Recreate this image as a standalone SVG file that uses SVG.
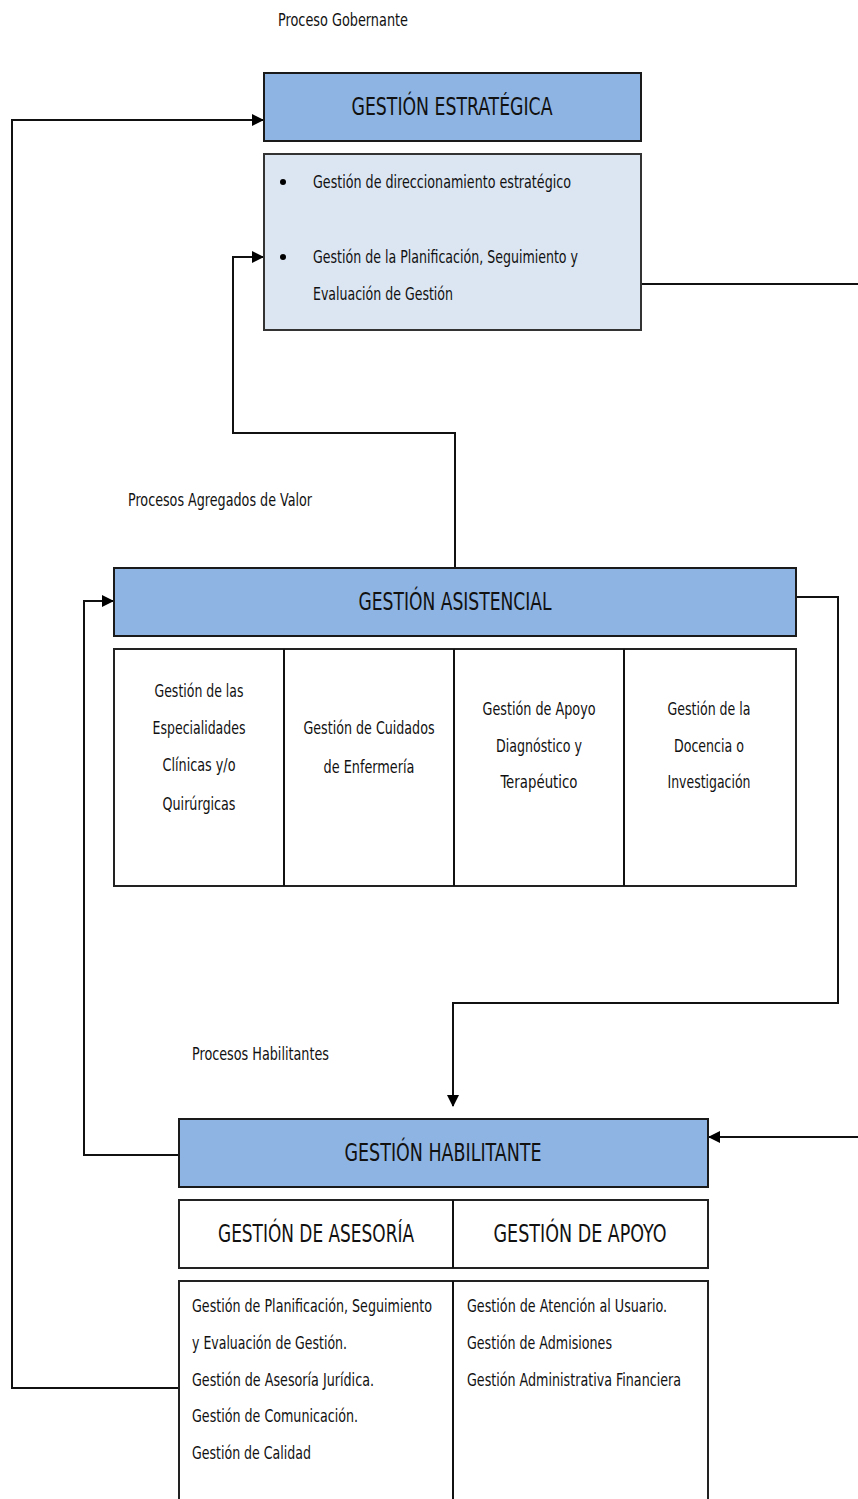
<svg xmlns="http://www.w3.org/2000/svg" width="858" height="1499" viewBox="0 0 858 1499">
<style>
text{font-family:"Liberation Sans Narrow","DejaVu Sans Condensed","Liberation Sans",sans-serif;fill:#111;}
.s{font-size:17px;}
.h{font-size:25px;}
.c{text-anchor:middle;}
.dark{fill:#8eb4e3;stroke:#1a1a1a;stroke-width:2;}
.light{fill:#dce6f2;stroke:#333;stroke-width:2;}
.white{fill:#fff;stroke:#222;stroke-width:2;}
.con{fill:none;stroke:#111;stroke-width:2;}
</style>
<defs>
<marker id="arr" markerWidth="12" markerHeight="12" refX="11" refY="6" orient="auto" markerUnits="userSpaceOnUse">
<path d="M0,0 L12,6 L0,12 Z" fill="#000"/>
</marker>
</defs>
<rect width="858" height="1499" fill="#fff"/>

<text class="s" x="278" y="26" textLength="130" lengthAdjust="spacingAndGlyphs">Proceso Gobernante</text>
<text class="s" x="128" y="506" textLength="184" lengthAdjust="spacingAndGlyphs">Procesos Agregados de Valor</text>
<text class="s" x="192" y="1060" textLength="137" lengthAdjust="spacingAndGlyphs">Procesos Habilitantes</text>

<g id="connectors">
<polyline class="con" points="179,1388 12,1388 12,120 263,120" marker-end="url(#arr)"/>
<polyline class="con" points="455,568 455,433 233,433 233,257 263,257" marker-end="url(#arr)"/>
<line class="con" x1="641" y1="284" x2="858" y2="284"/>
<polyline class="con" points="179,1155 84,1155 84,601 113,601" marker-end="url(#arr)"/>
<polyline class="con" points="796,597 838,597 838,1003 453,1003 453,1106" marker-end="url(#arr)"/>
<line class="con" x1="858" y1="1137" x2="709" y2="1137" marker-end="url(#arr)"/>
</g>

<g id="gestion-estrategica">
<rect class="dark" x="264" y="73" width="377" height="68"/>
<text class="h c" x="452" y="115" textLength="201" lengthAdjust="spacingAndGlyphs">GESTIÓN ESTRATÉGICA</text>
</g>

<g id="estrategica-detalle">
<rect class="light" x="264" y="154" width="377" height="176"/>
<circle cx="283" cy="182" r="3" fill="#000"/>
<circle cx="283" cy="257" r="3" fill="#000"/>
<text class="s" x="313" y="188" textLength="258" lengthAdjust="spacingAndGlyphs">Gestión de direccionamiento estratégico</text>
<text class="s" x="313" y="263" textLength="265" lengthAdjust="spacingAndGlyphs">Gestión de la Planificación, Seguimiento y</text>
<text class="s" x="313" y="300" textLength="140" lengthAdjust="spacingAndGlyphs">Evaluación de Gestión</text>
</g>

<g id="gestion-asistencial">
<rect class="dark" x="114" y="568" width="682" height="68"/>
<text class="h c" x="455" y="610" textLength="193" lengthAdjust="spacingAndGlyphs">GESTIÓN ASISTENCIAL</text>
</g>

<g id="asistencial-detalle">
<rect class="white" x="114" y="649" width="682" height="237"/>
<line class="con" x1="284" y1="649" x2="284" y2="886"/>
<line class="con" x1="454" y1="649" x2="454" y2="886"/>
<line class="con" x1="624" y1="649" x2="624" y2="886"/>
<text class="s c" x="199" y="697" textLength="89" lengthAdjust="spacingAndGlyphs">Gestión de las</text>
<text class="s c" x="199" y="734" textLength="93" lengthAdjust="spacingAndGlyphs">Especialidades</text>
<text class="s c" x="199" y="771" textLength="73" lengthAdjust="spacingAndGlyphs">Clínicas y/o</text>
<text class="s c" x="199" y="810" textLength="73" lengthAdjust="spacingAndGlyphs">Quirúrgicas</text>
<text class="s c" x="369" y="734" textLength="131" lengthAdjust="spacingAndGlyphs">Gestión de Cuidados</text>
<text class="s c" x="369" y="773" textLength="91" lengthAdjust="spacingAndGlyphs">de Enfermería</text>
<text class="s c" x="539" y="715" textLength="113" lengthAdjust="spacingAndGlyphs">Gestión de Apoyo</text>
<text class="s c" x="539" y="752" textLength="86" lengthAdjust="spacingAndGlyphs">Diagnóstico y</text>
<text class="s c" x="539" y="788" textLength="77" lengthAdjust="spacingAndGlyphs">Terapéutico</text>
<text class="s c" x="709" y="715" textLength="83" lengthAdjust="spacingAndGlyphs">Gestión de la</text>
<text class="s c" x="709" y="752" textLength="70" lengthAdjust="spacingAndGlyphs">Docencia o</text>
<text class="s c" x="709" y="788" textLength="83" lengthAdjust="spacingAndGlyphs">Investigación</text>
</g>

<g id="gestion-habilitante">
<rect class="dark" x="179" y="1119" width="529" height="68"/>
<text class="h c" x="443" y="1161" textLength="197" lengthAdjust="spacingAndGlyphs">GESTIÓN HABILITANTE</text>
</g>

<g id="habilitante-cabecera">
<rect class="white" x="179" y="1200" width="529" height="68"/>
<line class="con" x1="453" y1="1200" x2="453" y2="1268"/>
<text class="h c" x="316" y="1242" textLength="196" lengthAdjust="spacingAndGlyphs">GESTIÓN DE ASESORÍA</text>
<text class="h c" x="580" y="1242" textLength="173" lengthAdjust="spacingAndGlyphs">GESTIÓN DE APOYO</text>
</g>

<g id="habilitante-detalle">
<rect class="white" x="179" y="1281" width="529" height="230"/>
<line class="con" x1="453" y1="1281" x2="453" y2="1499"/>
<text class="s" x="192" y="1312" textLength="240" lengthAdjust="spacingAndGlyphs">Gestión de Planificación, Seguimiento</text>
<text class="s" x="192" y="1349" textLength="155" lengthAdjust="spacingAndGlyphs">y Evaluación de Gestión.</text>
<text class="s" x="192" y="1386" textLength="182" lengthAdjust="spacingAndGlyphs">Gestión de Asesoría Jurídica.</text>
<text class="s" x="192" y="1422" textLength="166" lengthAdjust="spacingAndGlyphs">Gestión de Comunicación.</text>
<text class="s" x="192" y="1459" textLength="119" lengthAdjust="spacingAndGlyphs">Gestión de Calidad</text>
<text class="s" x="467" y="1312" textLength="200" lengthAdjust="spacingAndGlyphs">Gestión de Atención al Usuario.</text>
<text class="s" x="467" y="1349" textLength="145" lengthAdjust="spacingAndGlyphs">Gestión de Admisiones</text>
<text class="s" x="467" y="1386" textLength="214" lengthAdjust="spacingAndGlyphs">Gestión Administrativa Financiera</text>
</g>
</svg>
